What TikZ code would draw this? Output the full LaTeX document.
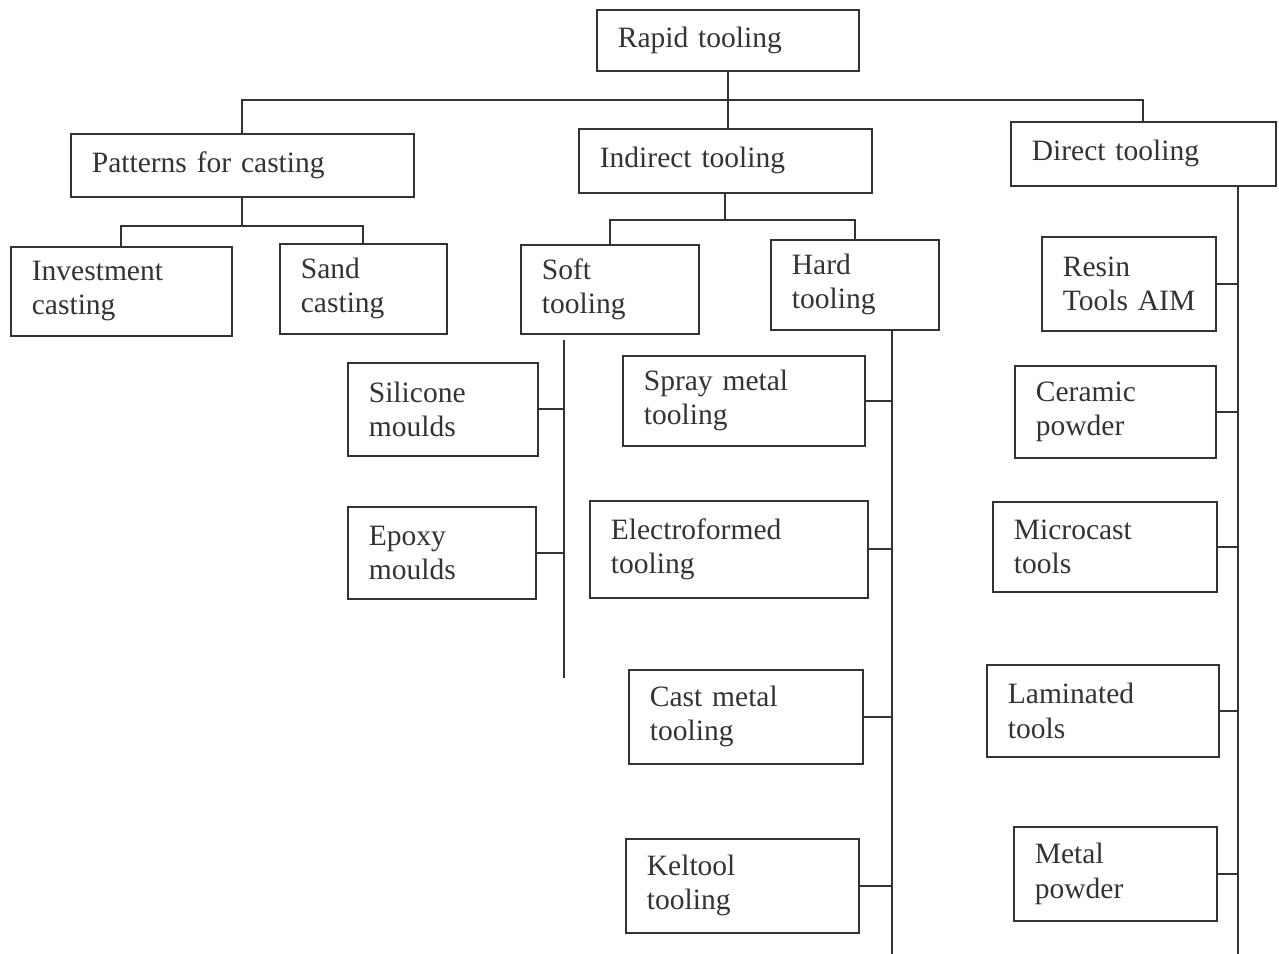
\documentclass[tikz,border=0pt]{standalone}
\usepackage{fontspec}
\setmainfont{Liberation Serif}
\tikzset{
  box/.style={draw, anchor=north west, inner xsep=0.42cm, inner ysep=0pt,
    align=left, font=\fontsize{16.8}{19.4}\selectfont},
}
\begin{document}
\begin{tikzpicture}[x=0.02cm, y=-0.02cm, line width=1pt, black!80]
  \useasboundingbox (0,0) rectangle (1279,954);
  \node[box, text width=4.40cm, minimum height=1.22cm] (rapid) at (596,9) {Rapid tooling};
  \node[box, text width=6.02cm, minimum height=1.26cm] (patterns) at (70,133) {Patterns for casting};
  \node[box, text width=5.02cm, minimum height=1.28cm] (indirect) at (578,128) {Indirect tooling};
  \node[box, text width=4.46cm, minimum height=1.28cm] (direct) at (1010,121) {Direct tooling};
  \node[box, text width=3.58cm, minimum height=1.78cm] (invest) at (10,246) {Investment\\casting};
  \node[box, text width=2.50cm, minimum height=1.80cm] (sand) at (279,243) {Sand\\casting};
  \node[box, text width=2.72cm, minimum height=1.78cm] (soft) at (520,244) {Soft\\tooling};
  \node[box, text width=2.52cm, minimum height=1.80cm] (hard) at (770,239) {Hard\\tooling};
  \node[box, text width=2.96cm, minimum height=1.86cm] (silicone) at (347,362) {Silicone\\moulds};
  \node[box, text width=2.92cm, minimum height=1.84cm] (epoxy) at (347,506) {Epoxy\\moulds};
  \node[box, text width=4.00cm, minimum height=1.80cm] (spray) at (622,355) {Spray metal\\tooling};
  \node[box, text width=4.72cm, minimum height=1.94cm] (electro) at (589,500) {Electroformed\\tooling};
  \node[box, text width=3.84cm, minimum height=1.88cm] (cast) at (628,669) {Cast metal\\tooling};
  \node[box, text width=3.82cm, minimum height=1.88cm] (keltool) at (625,838) {Keltool\\tooling};
  \node[box, text width=2.64cm, minimum height=1.88cm] (resin) at (1041,236) {Resin\\Tools~AIM};
  \node[box, text width=3.18cm, minimum height=1.84cm] (ceramic) at (1014,365) {Ceramic\\powder};
  \node[box, text width=3.64cm, minimum height=1.80cm] (microcast) at (992,501) {Microcast\\tools};
  \node[box, text width=3.80cm, minimum height=1.84cm] (laminated) at (986,664) {Laminated\\tools};
  \node[box, text width=3.22cm, minimum height=1.88cm] (metal) at (1013,826) {Metal\\powder};
  \coordinate (bus) at (722,100);
  \coordinate (pbus) at (232,226);
  \coordinate (ibus) at (722,220);
  \coordinate (sspine) at (564,340);
  \coordinate (send) at (564,678);
  \coordinate (hspine) at (892,954);
  \coordinate (dspine) at (1238,954);
  \begin{scope}[-]
    \draw (rapid.south) -- (rapid.south |- indirect.north);
    \draw (patterns.north) -- (patterns.north |- bus) -| (direct.north);
    \draw (patterns.south) -- (patterns.south |- pbus);
    \draw (invest.north) -- (invest.north |- pbus) -| (sand.north);
    \draw (indirect.south) -- (indirect.south |- ibus);
    \draw (soft.north) -- (soft.north |- ibus) -| (hard.north);
    \draw (sspine) -- (send);
    \draw (silicone.east) -- (silicone.east -| sspine);
    \draw (epoxy.east) -- (epoxy.east -| sspine);
    \draw (hspine |- hard.south) -- (hspine);
    \draw (spray.east) -- (spray.east -| hspine);
    \draw (electro.east) -- (electro.east -| hspine);
    \draw (cast.east) -- (cast.east -| hspine);
    \draw (keltool.east) -- (keltool.east -| hspine);
    \draw (dspine |- direct.south) -- (dspine);
    \draw (resin.east) -- (resin.east -| dspine);
    \draw (ceramic.east) -- (ceramic.east -| dspine);
    \draw (microcast.east) -- (microcast.east -| dspine);
    \draw (laminated.east) -- (laminated.east -| dspine);
    \draw (metal.east) -- (metal.east -| dspine);
  \end{scope}
\end{tikzpicture}
\end{document}
